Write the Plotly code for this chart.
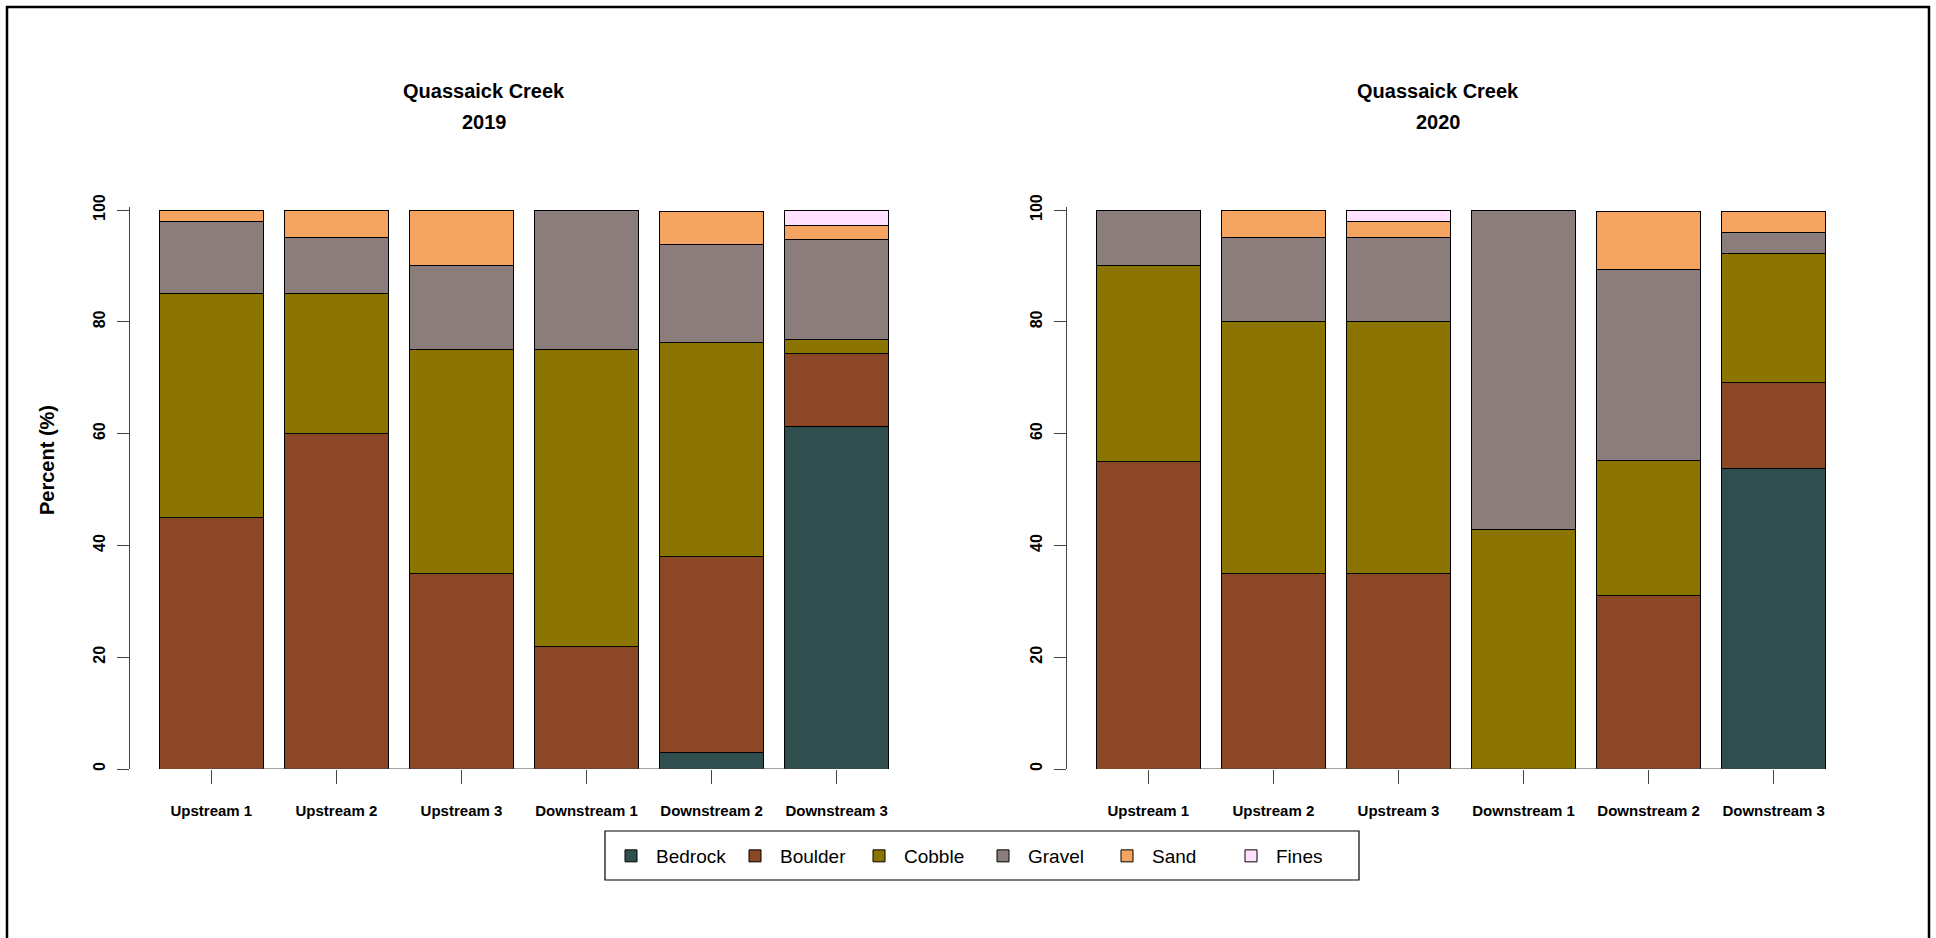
import plotly.graph_objects as go

W, H = 1936, 938

# Sampling sites (x categories)
sites = ["Upstream 1", "Upstream 2", "Upstream 3",
         "Downstream 1", "Downstream 2", "Downstream 3"]

# Substrate classes, stacked bottom to top
classes = ["Bedrock", "Boulder", "Cobble", "Gravel", "Sand", "Fines"]
class_colors = ["#2F4F4F", "#8B4726", "#8B7500", "#8B7D7B", "#F4A460", "#FFE1FF"]

# 2019 composition (%)
bedrock_2019 = [0, 0, 0, 0, 2.9, 61.3]
boulder_2019 = [45, 60, 35, 22, 35.2, 13.0]
cobble_2019 = [40, 25, 40, 53, 38.2, 2.5]
gravel_2019 = [13, 10, 15, 25, 17.6, 17.9]
sand_2019 = [2, 5, 10, 0, 5.8, 2.6]
fines_2019 = [0, 0, 0, 0, 0, 2.7]

# 2020 composition (%)
bedrock_2020 = [0, 0, 0, 0, 0, 53.8]
boulder_2020 = [55, 35, 35, 0, 31.0, 15.4]
cobble_2020 = [35, 45, 45, 42.9, 24.1, 23.0]
gravel_2020 = [10, 15, 15, 57.1, 34.3, 3.8]
sand_2020 = [0, 5, 3, 0, 10.3, 3.7]
fines_2020 = [0, 0, 2, 0, 0, 0]

y_ticks = [0, 20, 40, 60, 80, 100]

panels = [
    ("2019", [bedrock_2019, boulder_2019, cobble_2019, gravel_2019, sand_2019, fines_2019]),
    ("2020", [bedrock_2020, boulder_2020, cobble_2020, gravel_2020, sand_2020, fines_2020]),
]

FONT = "Liberation Sans, Arial, sans-serif"
AXIS_COLOR = "#444444"


def px_x(p):
    return p / W


def px_y(p):
    return 1 - p / H


fig = go.Figure()

for i, (year, series) in enumerate(panels):
    xa = "x" if i == 0 else "x2"
    ya = "y" if i == 0 else "y2"
    for name, color, vals in zip(classes, class_colors, series):
        fig.add_trace(go.Bar(
            x=sites, y=vals, name=name,
            marker=dict(color=color, line=dict(color="black", width=1)),
            xaxis=xa, yaxis=ya,
            legendgroup=name, showlegend=(i == 0),
        ))
    # baseline of the category axis, running from the first to the last bar centre
    fig.add_trace(go.Scatter(
        x=[sites[0], sites[-1]], y=[0, 0], mode="lines",
        line=dict(color=AXIS_COLOR, width=1),
        xaxis=xa, yaxis=ya, showlegend=False, hoverinfo="skip",
        cliponaxis=False,
    ))

y_dom = [px_y(769), px_y(207.2)]
common_x = dict(
    type="category", range=[-0.65, 5.65], showline=False, showgrid=False,
    zeroline=False, ticks="outside", ticklen=14, tickwidth=1, tickcolor=AXIS_COLOR,
    tickfont=dict(family=FONT, size=15, color="black", weight="bold"),
    ticklabelstandoff=14, fixedrange=True, automargin=False,
)
common_y = dict(
    range=[0, 100.5], tickvals=y_ticks, showline=True, linecolor=AXIS_COLOR,
    linewidth=1, showgrid=False, zeroline=False, ticks="outside", ticklen=12,
    tickwidth=1, tickcolor=AXIS_COLOR, tickangle=-90,
    tickfont=dict(family=FONT, size=16, color="black", weight="bold"),
    ticklabelstandoff=6, fixedrange=True, automargin=False,
)

fig.update_layout(
    width=W, height=H,
    margin=dict(l=0, r=0, t=0, b=0, autoexpand=False),
    paper_bgcolor="white", plot_bgcolor="white",
    barmode="stack", bargap=1 / 6,
    xaxis=dict(domain=[px_x(130), px_x(918)], anchor="y", **common_x),
    yaxis=dict(domain=y_dom, anchor="x", **common_y),
    xaxis2=dict(domain=[px_x(1067), px_x(1855)], anchor="y2", **common_x),
    yaxis2=dict(domain=y_dom, anchor="x2", **common_y),
    showlegend=True,
    legend=dict(
        orientation="h", x=px_x(606), xanchor="left", y=px_y(856), yanchor="middle",
        font=dict(family=FONT, size=19, color="black"),
        bgcolor="rgba(0,0,0,0)", borderwidth=0,
        entrywidth=69, entrywidthmode="pixels", itemwidth=40,
        traceorder="normal",
    ),
)

# Panel titles
title_x = [484, 1438]
for (year, _), cx in zip(panels, title_x):
    fig.add_annotation(x=px_x(cx), y=px_y(91), xref="paper", yref="paper",
                       text="Quassaick Creek", showarrow=False,
                       font=dict(family=FONT, size=20, color="black", weight="bold"),
                       xanchor="center", yanchor="middle")
    fig.add_annotation(x=px_x(cx), y=px_y(122), xref="paper", yref="paper",
                       text=year, showarrow=False,
                       font=dict(family=FONT, size=20, color="black", weight="bold"),
                       xanchor="center", yanchor="middle")

# Y axis title
fig.add_annotation(x=px_x(47), y=px_y(460), xref="paper", yref="paper",
                   text="Percent (%)", showarrow=False, textangle=-90,
                   font=dict(family=FONT, size=20, color="black", weight="bold"),
                   xanchor="center", yanchor="middle")

# Legend frame and outer figure frame
fig.add_shape(type="rect", xref="paper", yref="paper",
              x0=px_x(605), x1=px_x(1359), y0=px_y(880), y1=px_y(831),
              line=dict(color="black", width=1.2), fillcolor="rgba(0,0,0,0)")
fig.add_shape(type="rect", xref="paper", yref="paper",
              x0=px_x(7), x1=px_x(1929), y0=px_y(960), y1=px_y(7),
              line=dict(color="black", width=2.5), fillcolor="rgba(0,0,0,0)")

fig.write_html("out.html")
